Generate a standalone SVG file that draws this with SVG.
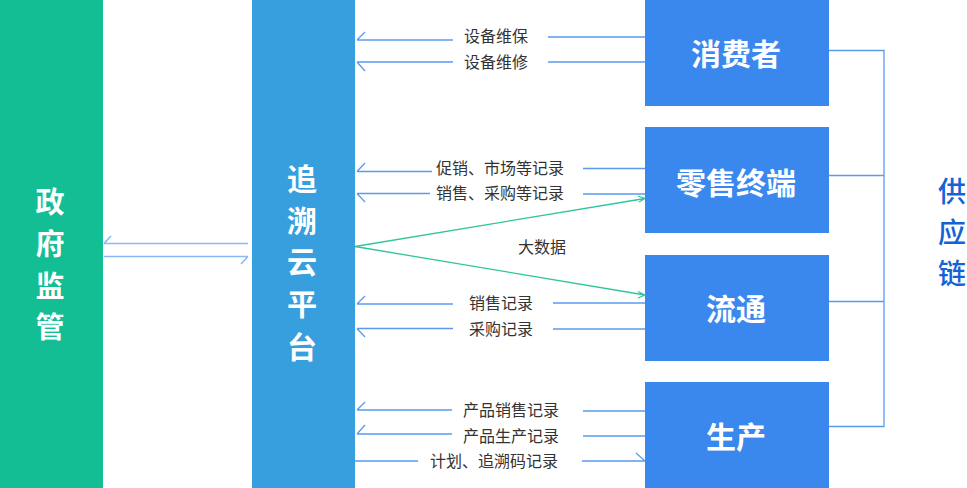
<svg xmlns="http://www.w3.org/2000/svg" width="967" height="488" viewBox="0 0 967 488">
<style>
.lbl{font-family:"Noto Sans CJK SC","Noto Sans",sans-serif;font-size:16px;fill:#333;text-anchor:middle;dominant-baseline:central}
.big{font-family:"Noto Sans CJK SC","Noto Sans",sans-serif;font-weight:bold;fill:#fff;text-anchor:middle;dominant-baseline:central}
.sc{font-family:"Noto Sans CJK SC","Noto Sans",sans-serif;font-size:28px;font-weight:500;fill:#1562d6;text-anchor:middle;dominant-baseline:central}
.ln{stroke:#5a9af0;stroke-width:1.3;fill:none}
.lt{stroke:#8ab8f5;stroke-width:1.6;fill:none}
.gr{stroke:#2ec59b;stroke-width:1.3;fill:none}
.box{fill:#3a88ee}
</style>
<rect width="967" height="488" fill="#fff"/>
<g id="gov">
<rect x="0" y="0" width="103" height="488" fill="#13be95"/>
<text class="big" style="font-size:29px" x="50" y="200">政</text>
<text class="big" style="font-size:29px" x="50" y="242">府</text>
<text class="big" style="font-size:29px" x="50" y="284">监</text>
<text class="big" style="font-size:29px" x="50" y="325">管</text>
</g>
<g id="platform">
<rect x="252" y="0" width="103" height="488" fill="#379fde"/>
<text class="big" style="font-size:30px" x="302" y="177">追</text>
<text class="big" style="font-size:30px" x="302" y="219">溯</text>
<text class="big" style="font-size:30px" x="302" y="260">云</text>
<text class="big" style="font-size:30px" x="302" y="302">平</text>
<text class="big" style="font-size:30px" x="302" y="345">台</text>
</g>
<g id="consumer"><rect class="box" x="645" y="0" width="184" height="106"/><text class="big" style="font-size:30px" x="736" y="52">消费者</text></g>
<g id="retail"><rect class="box" x="645" y="127" width="184" height="106"/><text class="big" style="font-size:30px" x="736" y="181">零售终端</text></g>
<g id="circulation"><rect class="box" x="645" y="255" width="184" height="106"/><text class="big" style="font-size:30px" x="736" y="307">流通</text></g>
<g id="production"><rect class="box" x="645" y="382" width="184" height="106"/><text class="big" style="font-size:30px" x="736" y="435">生产</text></g>
<g id="supplychain">
<text class="sc" x="952" y="190">供</text>
<text class="sc" x="952" y="231">应</text>
<text class="sc" x="952" y="272">链</text>
</g>
<g id="connectors">
<path class="lt" d="M104 243.5H248M104 243.5L111 236"/>
<path class="lt" d="M104 256.5H248M248 256.5L241 264"/>
<path class="ln" d="M829 50.5H884V426.5H829M829 175.5H884M829 301.5H884"/>
<path class="ln" d="M357 40H453M357 40L365 32M548 37H645"/>
<path class="ln" d="M357 62H453M357 62L365 71M548 62H645"/>
<path class="ln" d="M357 171.5H432M357 171.5L365 163M583 168.5H645"/>
<path class="ln" d="M357 193.5H430M357 193.5L365 202M583 194H645"/>
<path class="ln" d="M357 304H453M357 304L365 296M553 303H645"/>
<path class="ln" d="M357 328.5H453M357 328.5L365 337M553 329H645"/>
<path class="ln" d="M357 410H452M357 410L365 402M583 411H645"/>
<path class="ln" d="M357 434H452M357 434L365 425M583 436H645"/>
<path class="ln" d="M355 461H418M582 461H645M645 461L636 453"/>
<path class="gr" d="M355 246.5L645 198.5M645 198.5L638 196M645 198.5L639 202"/>
<path class="gr" d="M355 246.5L645 295M645 295L638 291.5M645 295L638 298"/>
<text class="lbl" x="496" y="35">设备维保</text>
<text class="lbl" x="496" y="61">设备维修</text>
<text class="lbl" x="500" y="166.5">促销、市场等记录</text>
<text class="lbl" x="500" y="192">销售、采购等记录</text>
<text class="lbl" x="542" y="246">大数据</text>
<text class="lbl" x="501" y="302">销售记录</text>
<text class="lbl" x="501" y="327.5">采购记录</text>
<text class="lbl" x="511" y="409">产品销售记录</text>
<text class="lbl" x="511" y="435">产品生产记录</text>
<text class="lbl" x="494" y="460">计划、追溯码记录</text>
</g>
</svg>
